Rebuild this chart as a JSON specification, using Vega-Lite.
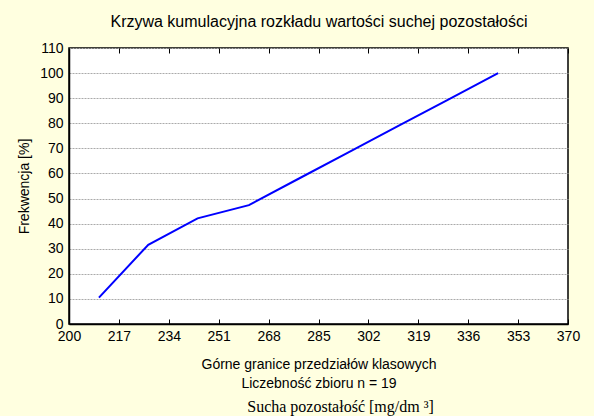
{
  "$schema": "https://vega.github.io/schema/vega-lite/v6.json",
  "width": 499,
  "height": 276,
  "autosize": {"type": "none"},
  "padding": {"left": 69, "top": 48, "right": 26, "bottom": 92},
  "background": "#FFFFE0",
  "title": {
    "text": "Sucha pozostałość [mg/dm ³]",
    "orient": "bottom",
    "anchor": "middle",
    "frame": "group",
    "font": "Liberation Serif",
    "fontSize": 16,
    "fontWeight": "normal",
    "color": "black",
    "offset": 9,
    "dx": 22
  },
  "config": {
    "font": "Liberation Sans",
    "view": {"fill": "white", "stroke": "black", "strokeWidth": 1.5}
  },
  "data": {
    "values": [
      {"granica": 210.2, "frekwencja": 10.53},
      {"granica": 227.0, "frekwencja": 31.58},
      {"granica": 243.8, "frekwencja": 42.11},
      {"granica": 261.3, "frekwencja": 47.37},
      {"granica": 278.2, "frekwencja": 57.89},
      {"granica": 295.2, "frekwencja": 68.42},
      {"granica": 312.2, "frekwencja": 78.95},
      {"granica": 329.2, "frekwencja": 89.47},
      {"granica": 346.2, "frekwencja": 100}
    ]
  },
  "layer": [
    {
      "mark": {"type": "line", "color": "#0000FF", "strokeWidth": 2},
      "encoding": {
        "x": {
          "field": "granica",
          "type": "quantitative",
          "scale": {"domain": [200, 370], "nice": false, "zero": false},
          "axis": {
            "values": [200, 217, 234, 251, 268, 285, 302, 319, 336, 353, 370],
            "title": ["Górne granice przedziałów klasowych", "Liczebność zbioru  n = 19"],
            "grid": false,
            "tickSize": -5,
            "tickColor": "black",
            "domainColor": "black",
            "domainWidth": 1.5,
            "labelFontSize": 14,
            "labelColor": "black",
            "labelPadding": 10,
            "labelDx": 5,
            "labelFlush": false,
            "titleFontSize": 14,
            "titleFontWeight": "normal",
            "titleColor": "black",
            "titlePadding": 14,
            "titleLineHeight": 19
          }
        },
        "y": {
          "field": "frekwencja",
          "type": "quantitative",
          "scale": {"domain": [0, 110], "nice": false, "zero": true},
          "axis": {
            "values": [0, 10, 20, 30, 40, 50, 60, 70, 80, 90, 100, 110],
            "title": "Frekwencja [%]",
            "grid": true,
            "gridColor": "#aaaaaa",
            "gridDash": [2, 1],
            "ticks": false,
            "domainColor": "black",
            "domainWidth": 1.5,
            "labelFontSize": 14,
            "labelColor": "black",
            "labelPadding": 6,
            "titleFontSize": 14,
            "titleFontWeight": "normal",
            "titleColor": "black",
            "titlePadding": 8
          }
        }
      }
    },
    {
      "mark": {"type": "rule", "opacity": 0},
      "encoding": {
        "x": {
          "field": "granica",
          "type": "quantitative",
          "axis": {
            "orient": "top",
            "values": [200, 217, 234, 251, 268, 285, 302, 319, 336, 353, 370],
            "labels": false,
            "grid": false,
            "domain": false,
            "tickSize": -5,
            "tickColor": "black",
            "title": "Krzywa kumulacyjna rozkładu wartości suchej pozostałości",
            "titleFontSize": 16,
            "titleFontWeight": "normal",
            "titleColor": "black",
            "titleDx": -6,
            "titlePadding": 18
          }
        }
      }
    }
  ],
  "resolve": {"axis": {"x": "independent"}}
}
